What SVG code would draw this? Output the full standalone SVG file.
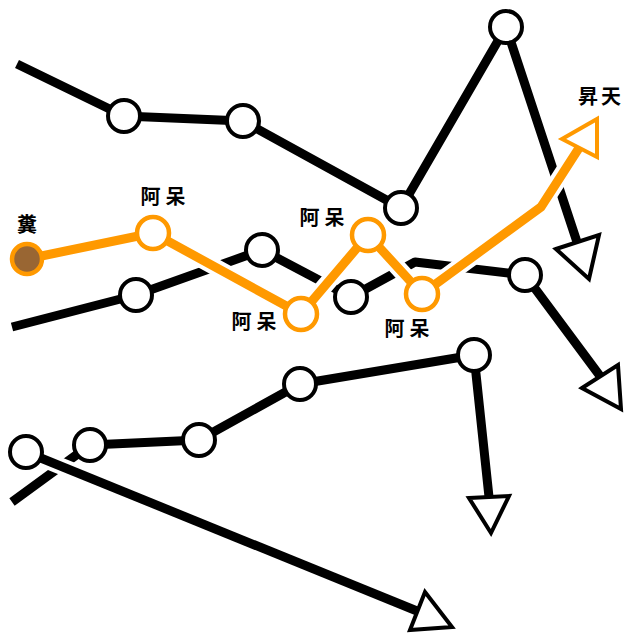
<svg xmlns="http://www.w3.org/2000/svg" width="627" height="633" viewBox="0 0 627 633">
<style>
.ln{fill:none;stroke:#000;stroke-width:9;stroke-linejoin:round}
.or{fill:none;stroke:#ff9900;stroke-width:9;stroke-linejoin:round}
.cs{fill:none;stroke:#fff;stroke-width:17;stroke-linejoin:round}
.nd{fill:#fff;stroke:#000;stroke-width:4}
.on{fill:#fff;stroke:#ff9900;stroke-width:4.5}
.ar{fill:#fff;stroke:#000;stroke-width:4;stroke-linejoin:miter}
.ao{fill:#fff;stroke:#ff9900;stroke-width:4;stroke-linejoin:miter}
.lb{font-family:"Noto Sans CJK SC","Noto Sans CJK JP",sans-serif;font-size:20px;font-weight:bold;fill:#000;text-anchor:middle;letter-spacing:5px}
</style>
<rect width="627" height="633" fill="#fff"/>
<g id="connectors">
  <polyline class="ln" points="17,64 124,116 243,121 401,208 506,27 577,242"/>
  <polygon class="ar" points="556,249 599,235 589,279"/>
  <polyline class="ln" points="12,327 136,295 262,250 351,297 415,262 525,275 600,376"/>
  <polygon class="ar" points="582,388 618,365 621,409"/>
  <polyline class="cs" points="27,259 153,233 301,314 368,235 422,294 541,207 576,152"/>
  <polyline class="or" points="27,259 153,233 301,314 368,235 422,294 541,207 579,148"/>
  <polygon class="ao" points="562,139 597,119 597,157"/>
  <polyline class="ln" points="12,502 90,445 199,440 300,384 474,355 489,497"/>
  <polygon class="ar" points="469,498 509,496 491,533"/>
  <polyline class="cs" points="26,452 410,608"/>
  <polyline class="ln" points="26,452 417,611"/>
  <polygon class="ar" points="425,592 410,630 452,627"/>
</g>
<g id="n1"><circle class="nd" cx="124" cy="116" r="16"/></g>
<g id="n2"><circle class="nd" cx="243" cy="121" r="16"/></g>
<g id="n3"><circle class="nd" cx="401" cy="208" r="16"/></g>
<g id="n4"><circle class="nd" cx="506" cy="27" r="16"/></g>
<g id="n5"><circle class="nd" cx="136" cy="295" r="16"/></g>
<g id="n6"><circle class="nd" cx="262" cy="250" r="16"/></g>
<g id="n7"><circle class="nd" cx="351" cy="297" r="16"/></g>
<g id="n8"><circle class="nd" cx="525" cy="275" r="16"/></g>
<g id="n9"><circle class="nd" cx="90" cy="445" r="16"/></g>
<g id="n10"><circle class="nd" cx="199" cy="440" r="16"/></g>
<g id="n11"><circle class="nd" cx="300" cy="384" r="16"/></g>
<g id="n12"><circle class="nd" cx="474" cy="355" r="16"/></g>
<g id="n13"><circle class="nd" cx="26" cy="452" r="16"/></g>
<g id="o0"><circle class="on" cx="27" cy="259" r="15" style="fill:#996633"/><text class="lb" x="29.5" y="232">糞</text></g>
<g id="o1"><circle class="on" cx="153" cy="233" r="16"/><text class="lb" x="165.5" y="204">阿呆</text></g>
<g id="o2"><circle class="on" cx="301" cy="314" r="16"/><text class="lb" x="256.5" y="329">阿呆</text></g>
<g id="o3"><circle class="on" cx="368" cy="235" r="16"/><text class="lb" x="324.5" y="225">阿呆</text></g>
<g id="o4"><circle class="on" cx="422" cy="294" r="16"/><text class="lb" x="409.5" y="336">阿呆</text></g>
<g id="o5"><text class="lb" x="601" y="104" style="letter-spacing:3px">昇天</text></g>
</svg>
